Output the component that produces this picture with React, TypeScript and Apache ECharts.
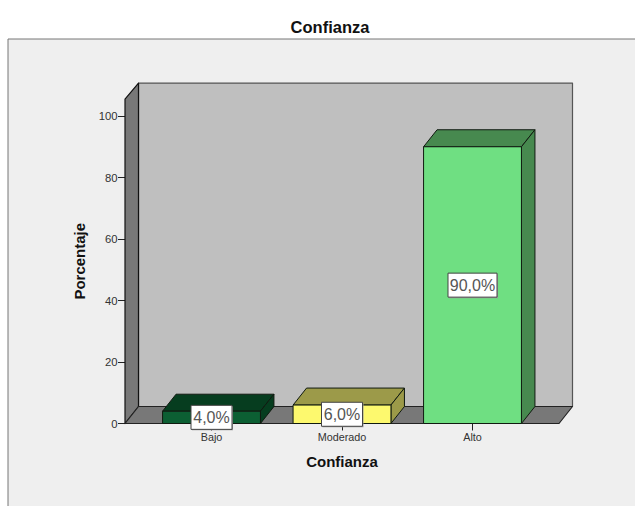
import React, { useEffect, useRef } from "react";
import * as echarts from "echarts";

const categories = ["Bajo", "Moderado", "Alto"];
const percentages = [4, 6, 90];
const valueLabels = ["4,0%", "6,0%", "90,0%"];
const frontColors = ["#0c5f33", "#fdf96e", "#6fdf82"];
const shadeColors = ["#063d1f", "#9c9a49", "#47894f"];

const TITLE = "Confianza";
const Y_NAME = "Porcentaje";
const Y_TOP_TICK = 100;
const WALL_TOP = 105.5;

// Oblique projection used for the pseudo-3D box
const DEPTH_X = 13.5;
const DEPTH_Y = 17;
const AXIS_GUTTER = 21.25;
const BAR_RATIO = 0.75;
const FONT = "'Liberation Sans', Arial, sans-serif";
const TICK_COLOR = "#222222";

const poly = (points: number[][], fill: string, stroke: string, lineWidth = 1.2) => ({
  type: "polygon",
  shape: { points },
  style: { fill, stroke, lineWidth, lineJoin: "round" },
});

// Back wall, side wall and floor of the box
const renderWalls = (params: any, api: any) => {
  const cs = params.coordSys;
  const yb = api.coord([0, 0])[1];
  const yt = api.coord([0, WALL_TOP])[1];
  const xl = cs.x - AXIS_GUTTER;
  const xr = cs.x + cs.width + AXIS_GUTTER;
  return {
    type: "group",
    children: [
      poly(
        [[xl + DEPTH_X, yt - DEPTH_Y + 1], [xr + DEPTH_X, yt - DEPTH_Y + 1], [xr + DEPTH_X, yb - DEPTH_Y], [xl + DEPTH_X, yb - DEPTH_Y]],
        "#bfbfbf",
        "#555555"
      ),
      poly(
        [[xl, yt], [xl + DEPTH_X, yt - DEPTH_Y + 1], [xl + DEPTH_X, yb - DEPTH_Y], [xl, yb]],
        "#787878",
        "#111111"
      ),
      poly(
        [[xl, yb], [xl + DEPTH_X, yb - DEPTH_Y], [xr + DEPTH_X, yb - DEPTH_Y], [xr, yb]],
        "#787878",
        "#222222"
      ),
    ],
  };
};

// One extruded bar: top face, side face, front face
const renderBar = (params: any, api: any) => {
  const i = params.dataIndex;
  const [cx, yt] = api.coord([i, api.value(1)]);
  const yb = api.coord([i, 0])[1];
  const half = (api.size([1, 0])[0] * BAR_RATIO) / 2;
  const x0 = cx - half;
  const x1 = cx + half;
  const line = "#101a10";
  return {
    type: "group",
    children: [
      poly([[x0, yt], [x0 + DEPTH_X, yt - DEPTH_Y], [x1 + DEPTH_X, yt - DEPTH_Y], [x1, yt]], shadeColors[i], line, 1),
      poly([[x1, yt], [x1 + DEPTH_X, yt - DEPTH_Y], [x1 + DEPTH_X, yb - DEPTH_Y], [x1, yb]], shadeColors[i], line, 1),
      poly([[x0, yt], [x1, yt], [x1, yb], [x0, yb]], frontColors[i], line, 1),
    ],
  };
};

// White value box centred on the bar's front face
const renderValueBox = (params: any, api: any) => {
  const i = params.dataIndex;
  const [cx, yt] = api.coord([i, api.value(1)]);
  const yb = api.coord([i, 0])[1];
  const cy = (yt + yb) / 2;
  const w = valueLabels[i].length > 4 ? 49 : 41;
  const h = 24;
  return {
    type: "group",
    children: [
      { type: "rect", shape: { x: cx - w / 2 + 1, y: cy - h / 2 + 1, width: w, height: h }, style: { fill: "#9a9a9a" } },
      { type: "rect", shape: { x: cx - w / 2, y: cy - h / 2, width: w, height: h }, style: { fill: "#ffffff", stroke: "#444444", lineWidth: 1 } },
      {
        type: "text",
        style: { x: cx, y: cy, text: valueLabels[i], align: "center", verticalAlign: "middle", fill: "#555555", font: `16px ${FONT}` },
      },
    ],
  };
};

export default function App() {
  const ref = useRef<HTMLDivElement>(null);

  useEffect(() => {
    document.body.style.margin = "0";
    const chart = echarts.init(ref.current!, undefined, { renderer: "svg" });
    chart.setOption({
      animation: false,
      backgroundColor: "#ffffff",
      title: {
        text: TITLE,
        left: 325,
        top: 13,
        textAlign: "center",
        textStyle: { fontFamily: FONT, fontSize: 16.5, fontWeight: "bold", color: "#111111" },
      },
      graphic: [
        {
          type: "rect",
          z: -10,
          shape: { x: 8, y: 39, width: 640, height: 480 },
          style: { fill: "#efefef", stroke: "#777777", lineWidth: 1 },
        },
      ],
      grid: { left: 146.25, right: 97.25, top: 116, bottom: 82.5 },
      xAxis: {
        type: "category",
        data: categories,
        name: TITLE,
        nameLocation: "middle",
        nameGap: 30,
        nameTextStyle: { fontFamily: FONT, fontSize: 15, fontWeight: "bold", color: "#111111" },
        axisLine: { show: false, lineStyle: { color: TICK_COLOR } },
        axisTick: { show: true, alignWithLabel: true, length: 7, lineStyle: { color: TICK_COLOR, width: 1 } },
        axisLabel: { fontFamily: FONT, fontSize: 10.8, color: "#333333", margin: 8 },
      },
      yAxis: {
        type: "value",
        min: 0,
        max: Y_TOP_TICK,
        interval: 20,
        offset: AXIS_GUTTER,
        splitLine: { show: false },
        name: Y_NAME,
        nameLocation: "middle",
        nameGap: 38,
        nameTextStyle: { fontFamily: FONT, fontSize: 15, fontWeight: "bold", color: "#111111", padding: [0, 0, 0, 17] },
        axisLine: { show: false, lineStyle: { color: TICK_COLOR } },
        axisTick: { show: true, length: 7, lineStyle: { color: TICK_COLOR, width: 1 } },
        axisLabel: { fontFamily: FONT, fontSize: 11.3, color: () => "#333333", margin: 7.5 },
      },
      series: [
        { type: "custom", data: [[0, 0]], renderItem: renderWalls, silent: true, z: 2 },
        { type: "custom", data: percentages.map((v, i) => [i, v]), encode: { x: 0, y: 1 }, renderItem: renderBar, clip: false, z: 3 },
        { type: "custom", data: percentages.map((v, i) => [i, v]), encode: { x: 0, y: 1 }, renderItem: renderValueBox, clip: false, z: 4 },
      ],
    });
    return () => chart.dispose();
  }, []);

  return <div ref={ref} style={{ width: 635, height: 506 }} />;
}
